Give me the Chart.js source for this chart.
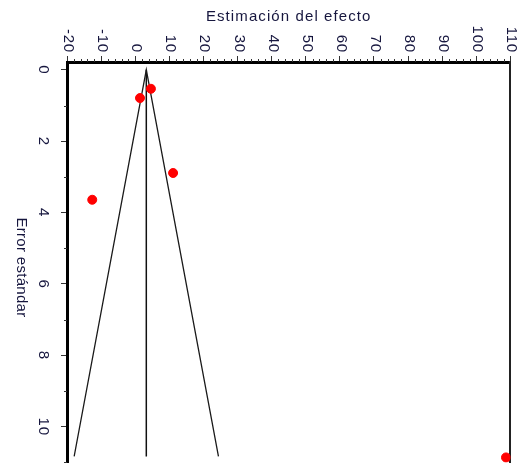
<!DOCTYPE html>
<html>
<head>
<meta charset="utf-8">
<script src="https://cdn.jsdelivr.net/npm/chart.js@4"></script>
<style>
  html, body { margin: 0; padding: 0; background: #fff; overflow: hidden; }
  #wrap { width: 523px; height: 473px; }
</style>
</head>
<body>
<div id="wrap"><canvas id="c" width="523" height="473"></canvas></div>
<script>
// Study estimates (effect, standard error)
const studyEffects = [4.6, 1.4, 11.1, -12.6, 108.7];
const studySE      = [0.53, 0.79, 2.89, 3.64, 10.86];

// Pooled estimate and the 95% funnel limits at the bottom of the plot
const pooledEffect = 3.25;
const funnelBottomSE = 10.83;
const funnelLeftEnd = -17.9;
const funnelRightEnd = 24.4;

// Axis ranges and tick labels
const xTickValues = [-20, -10, 0, 10, 20, 30, 40, 50, 60, 70, 80, 90, 100, 110];
const yTickValues = [0, 2, 4, 6, 8, 10];
const xMinorTicks = [-18, -16, -14, -12, -8, -6, -4, -2, 2, 4, 6, 8, 12, 14, 16, 18,
  22, 24, 26, 28, 32, 34, 36, 38, 42, 44, 46, 48, 52, 54, 56, 58, 62, 64, 66, 68,
  72, 74, 76, 78, 82, 84, 86, 88, 92, 94, 96, 98, 102, 104, 106, 108];
const yMinorTicks = [1, 3, 5, 7, 9, 11];
const xTitle = 'Estimación del efecto';
const yTitle = 'Error estándar';

const TEXT = '#16163e';
const FONT = '"Liberation Sans", Arial, sans-serif';

const studyPoints = studyEffects.map((e, i) => ({ x: e, y: studySE[i] }));

// Rotated tick labels, axis titles and minor ticks
const annotate = {
  id: 'annotate',
  afterDraw(chart) {
    const { ctx, chartArea } = chart;
    const xs = chart.scales.x, ys = chart.scales.y;
    ctx.save();

    // minor tick marks
    ctx.strokeStyle = '#333';
    ctx.lineWidth = 1;
    ctx.beginPath();
    xMinorTicks.forEach(v => {
      const px = Math.round(xs.getPixelForValue(v)) + 0.5;
      ctx.moveTo(px, chartArea.top);
      ctx.lineTo(px, chartArea.top - 3);
    });
    yMinorTicks.forEach(v => {
      const py = Math.round(ys.getPixelForValue(v)) + 0.5;
      ctx.moveTo(chartArea.left, py);
      ctx.lineTo(chartArea.left - 3, py);
    });
    ctx.stroke();

    ctx.fillStyle = TEXT;

    // x title
    ctx.font = '15px ' + FONT;
    ctx.letterSpacing = '1.1px';
    ctx.textAlign = 'center';
    ctx.textBaseline = 'alphabetic';
    ctx.fillText(xTitle, (chartArea.left + chartArea.right) / 2, 21);

    // x tick labels, turned clockwise
    ctx.letterSpacing = '0.8px';
    xTickValues.forEach(v => {
      const px = xs.getPixelForValue(v);
      ctx.save();
      ctx.translate(px - 3, 53);
      ctx.rotate(Math.PI / 2);
      ctx.textAlign = 'right';
      ctx.fillText(String(v), 0, 0);
      ctx.restore();
    });

    // y tick labels, turned clockwise
    yTickValues.forEach(v => {
      const py = ys.getPixelForValue(v);
      ctx.save();
      ctx.translate(39, py);
      ctx.rotate(Math.PI / 2);
      ctx.textAlign = 'center';
      ctx.fillText(String(v), 0, 0);
      ctx.restore();
    });

    // y title
    ctx.letterSpacing = '0.3px';
    ctx.save();
    ctx.translate(17, 267.5);
    ctx.rotate(Math.PI / 2);
    ctx.textAlign = 'center';
    ctx.fillText(yTitle, 0, 0);
    ctx.restore();

    ctx.restore();
  }
};

new Chart(document.getElementById('c'), {
  type: 'scatter',
  data: {
    datasets: [
      {
        type: 'line',
        data: [
          { x: funnelLeftEnd, y: funnelBottomSE },
          { x: pooledEffect, y: 0 },
          { x: funnelRightEnd, y: funnelBottomSE }
        ],
        borderColor: '#1a1a1a',
        borderWidth: 1.3,
        pointRadius: 0,
        fill: false,
        tension: 0,
        order: 2
      },
      {
        type: 'line',
        data: [
          { x: pooledEffect, y: 0 },
          { x: pooledEffect, y: funnelBottomSE }
        ],
        borderColor: '#111',
        borderWidth: 1.5,
        pointRadius: 0,
        fill: false,
        order: 2
      },
      {
        data: studyPoints,
        backgroundColor: '#ff0000',
        borderColor: '#ff0000',
        borderWidth: 1,
        pointRadius: 4.5,
        order: 1
      }
    ]
  },
  options: {
    responsive: false,
    animation: false,
    devicePixelRatio: 1,
    layout: { padding: 0 },
    plugins: { legend: { display: false }, tooltip: { enabled: false } },
    scales: {
      x: {
        type: 'linear',
        position: 'top',
        min: -20,
        max: 110,
        ticks: { stepSize: 10, color: 'rgba(0,0,0,0)', includeBounds: false },
        grid: { drawOnChartArea: false, tickLength: 6, tickColor: '#333', tickWidth: 1 },
        border: { display: true, color: '#000', width: 3 },
        afterFit(scale) { scale.height = 62; }
      },
      y: {
        type: 'linear',
        position: 'left',
        reverse: true,
        min: -0.22,
        max: 11.01,
        ticks: { stepSize: 2, color: 'rgba(0,0,0,0)', includeBounds: false },
        grid: { drawOnChartArea: false, tickLength: 6, tickColor: '#333', tickWidth: 1 },
        border: { display: true, color: '#000', width: 3 },
        afterFit(scale) { scale.width = 67; }
      },
      y2: {
        type: 'linear',
        position: 'right',
        reverse: true,
        min: -0.22,
        max: 11.01,
        ticks: { display: false },
        grid: { display: false },
        border: { display: true, color: '#222', width: 2 },
        afterFit(scale) { scale.width = 12; }
      }
    }
  },
  plugins: [annotate]
});
</script>
</body>
</html>
